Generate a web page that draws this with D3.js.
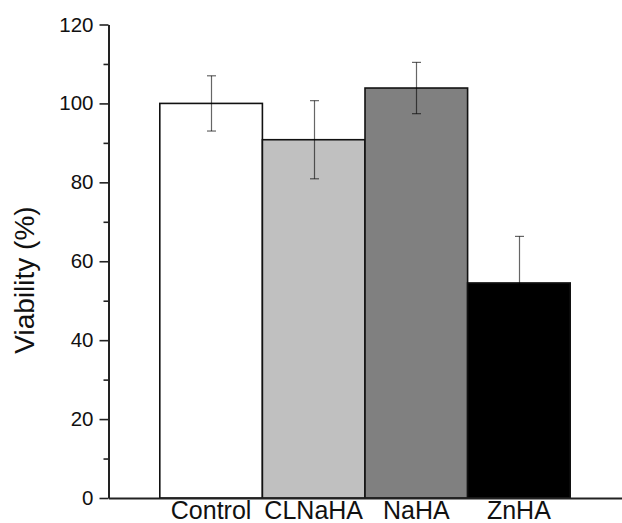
<!DOCTYPE html>
<html>
<head>
<meta charset="utf-8">
<script src="https://cdn.jsdelivr.net/npm/d3@7"></script>
<style>
  body { margin: 0; background: #fff; }
  svg { display: block; font-family: "Liberation Sans", Arial, sans-serif; }
</style>
</head>
<body>
<svg id="chart"></svg>
<script>
const width = 622;
const height = 523;

// data
const categories = ['Control', 'CLNaHA', 'NaHA', 'ZnHA'];
const values = [100, 90.8, 103.9, 54.5];
const errors = [7, 9.9, 6.5, 11.8];
const fills = ['#ffffff', '#c0c0c0', '#808080', '#000000'];
const majorTicks = [0, 20, 40, 60, 80, 100, 120];
const minorTicks = [10, 30, 50, 70, 90, 110];

const svg = d3.select('#chart')
    .attr('width', width)
    .attr('height', height);

const x = d3.scaleBand()
    .domain(categories)
    .range([108.5, 621.5])
    .paddingInner(0)
    .paddingOuter(0.5);

const y = d3.scaleLinear()
    .domain([0, 120])
    .range([498, 24.5]);

const rows = categories.map((c, i) => ({ name: c, v: values[i], e: errors[i], fill: fills[i] }));

// bars
svg.append('g')
    .selectAll('rect')
    .data(rows)
    .enter().append('rect')
    .attr('x', d => x(d.name))
    .attr('y', d => y(d.v))
    .attr('width', x.bandwidth())
    .attr('height', d => y(0) - y(d.v))
    .attr('fill', d => d.fill)
    .attr('stroke', '#111')
    .attr('stroke-width', 1.6);

// error bars: half transparent black, so grey on white and gone on black
const err = svg.append('g')
    .attr('stroke', '#000')
    .attr('stroke-opacity', 0.6)
    .attr('stroke-width', 1.2);
const cap = 4.5;
rows.forEach(d => {
    const cx = Math.round(x(d.name) + x.bandwidth() / 2) + 0.5;
    err.append('line')
        .attr('x1', cx).attr('x2', cx)
        .attr('y1', y(d.v + d.e)).attr('y2', y(d.v - d.e));
    err.append('line')
        .attr('x1', cx - cap).attr('x2', cx + cap)
        .attr('y1', y(d.v + d.e)).attr('y2', y(d.v + d.e));
    err.append('line')
        .attr('x1', cx - cap).attr('x2', cx + cap)
        .attr('y1', y(d.v - d.e)).attr('y2', y(d.v - d.e));
});

// y axis, minor ticks first
const yMinor = svg.append('g')
    .attr('transform', 'translate(108.5,0)')
    .call(d3.axisLeft(y).tickValues(minorTicks).tickSize(5).tickFormat(''));
yMinor.select('.domain').remove();
yMinor.selectAll('line').attr('stroke', '#222').attr('stroke-width', 1.6);

const yAxis = svg.append('g')
    .attr('transform', 'translate(108.5,0)')
    .call(d3.axisLeft(y).tickValues(majorTicks).tickSize(9).tickSizeOuter(0).tickPadding(6));
yAxis.select('.domain').attr('stroke', '#222').attr('stroke-width', 2);
yAxis.selectAll('line').attr('stroke', '#222').attr('stroke-width', 1.6);
yAxis.selectAll('text')
    .attr('font-family', '"Liberation Sans", Arial, sans-serif')
    .attr('font-size', 20.5)
    .attr('fill', '#111');

// x axis
const xAxis = svg.append('g')
    .attr('transform', 'translate(0,498)')
    .call(d3.axisBottom(x).tickSize(0).tickSizeOuter(0).tickPadding(3));
xAxis.select('.domain').attr('stroke', '#222').attr('stroke-width', 2);
xAxis.selectAll('text')
    .attr('font-family', '"Liberation Sans", Arial, sans-serif')
    .attr('font-size', 25)
    .attr('fill', '#111');

// y label
svg.append('text')
    .attr('transform', 'translate(33.5,280) rotate(-90)')
    .attr('text-anchor', 'middle')
    .attr('font-size', 28)
    .attr('fill', '#111')
    .text('Viability (%)');
</script>
</body>
</html>
